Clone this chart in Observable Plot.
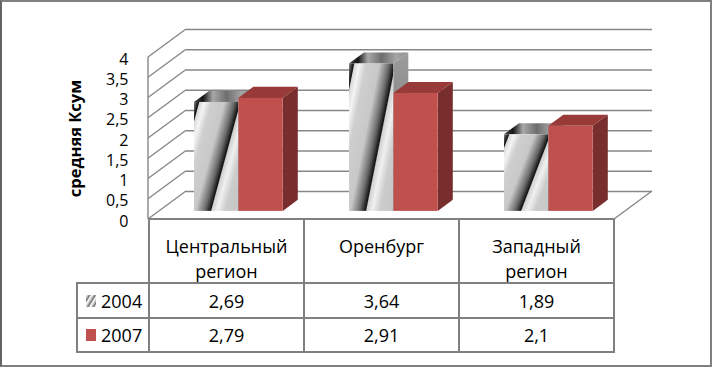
<!DOCTYPE html>
<html>
<head>
<meta charset="utf-8">
<script src="https://cdn.jsdelivr.net/npm/d3@7"></script>
<script src="https://cdn.jsdelivr.net/npm/@observablehq/plot@0.6"></script>
<style>
  body { margin: 0; background: #fff; }
  #wrap { position: relative; width: 712px; height: 367px; overflow: hidden; font-family: "Open Sans", sans-serif; background: #fff; }
  #wrap > svg { position: absolute; left: 0; top: 0; }
  #frame { position: absolute; left: 0; top: 0; width: 712px; height: 367px; box-sizing: border-box; border: 2px solid #808080; border-left-color: #646464; pointer-events: none; }
  .ln { position: absolute; background: #808080; }
  .cell { position: absolute; text-align: center; font-size: 18px; color: #000; white-space: nowrap; }
  .sw { display: block; margin-right: 5px; flex: none; }
</style>
</head>
<body>
<div id="wrap"><div id="frame"></div></div>
<script>
// ---------- data ----------
const categories = ["Центральный регион", "Оренбург", "Западный регион"];
const years = ["2004", "2007"];
const values2004 = [2.69, 3.64, 1.89];
const values2007 = [2.79, 2.91, 2.1];
const yTicks = [0, 0.5, 1, 1.5, 2, 2.5, 3, 3.5, 4];
const yTitle = "средняя Ксум";

const rows = categories.flatMap((cat, i) => [
  {cat, year: years[0], value: values2004[i]},
  {cat, year: years[1], value: values2007[i]}
]);
const fmt = v => String(v).replace(".", ",");

// ---------- layout ----------
const W = 712, H = 367;
const M = {left: 148, right: 98, top: 57, bottom: 148};
const DEPTH = [38, -28];          // full-depth oblique offset (px)
const BAR_D0 = 0.29, BAR_D1 = 0.685;
const SLOTS = {"2004": [0.219, 0.505], "2007": [0.505, 0.792]};
const bwPx = (W - M.left - M.right) / categories.length;
const GRID = "#878787";

const STYLE = {
  "2004": {front: "url(#metal)", top: "url(#metalTop)", side: "url(#metalSide)"},
  "2007": {front: "#C0504D", top: "#983B38", side: "#782E2C"}
};

const defsHTML = `
<linearGradient id="metal" gradientUnits="objectBoundingBox" x1="0" y1="0" x2="1.5" y2="1">
  <stop offset="0" stop-color="#8a8a8a"/>
  <stop offset="0.03" stop-color="#3a3a3a"/>
  <stop offset="0.05" stop-color="#121212"/>
  <stop offset="0.06" stop-color="#d8d8d8"/>
  <stop offset="0.11" stop-color="#f4f4f4"/>
  <stop offset="0.18" stop-color="#cfcfcf"/>
  <stop offset="0.32" stop-color="#c8c8c8"/>
  <stop offset="0.42" stop-color="#6a6a6a"/>
  <stop offset="0.48" stop-color="#121212"/>
  <stop offset="0.492" stop-color="#d0d0d0"/>
  <stop offset="0.55" stop-color="#f0f0f0"/>
  <stop offset="0.63" stop-color="#cccccc"/>
  <stop offset="0.8" stop-color="#c4c4c4"/>
</linearGradient>
<linearGradient id="metalTop" gradientUnits="objectBoundingBox" x1="0" y1="0" x2="1" y2="0">
  <stop offset="0" stop-color="#4a4a4a"/>
  <stop offset="0.15" stop-color="#141414"/>
  <stop offset="0.32" stop-color="#a8a8a8"/>
  <stop offset="0.55" stop-color="#6e6e6e"/>
  <stop offset="0.8" stop-color="#a5a5a5"/>
  <stop offset="1" stop-color="#8a8a8a"/>
</linearGradient>
<linearGradient id="metalSide" gradientUnits="objectBoundingBox" x1="0" y1="0" x2="0" y2="1">
  <stop offset="0" stop-color="#9c9c9c"/>
  <stop offset="1" stop-color="#6a6a6a"/>
</linearGradient>`;

// ---------- custom render marks (use Plot's scales) ----------
function walls(index, {y}, values, dims) {
  const g = d3.create("svg:g").attr("stroke", GRID).attr("stroke-width", 1.4).attr("fill", "none");
  g.append("defs").html(defsHTML);
  const xl = dims.marginLeft, xr = dims.width - dims.marginRight;
  for (const v of yTicks) {
    g.append("line").attr("x1", xl).attr("y1", y(v)).attr("x2", xl + DEPTH[0]).attr("y2", y(v) + DEPTH[1]);
  }
  g.append("line").attr("x1", xl).attr("y1", y(yTicks[yTicks.length - 1])).attr("x2", xl).attr("y2", y(0));
  g.append("line").attr("x1", xr).attr("y1", y(0)).attr("x2", xr + DEPTH[0]).attr("y2", y(0) + DEPTH[1]);
  return g.node();
}

function faces(index, {x, y}) {
  const g = d3.create("svg:g");
  const bw = x.bandwidth ? x.bandwidth() : bwPx;
  const o0 = [BAR_D0 * DEPTH[0], BAR_D0 * DEPTH[1]];
  const o1 = [BAR_D1 * DEPTH[0], BAR_D1 * DEPTH[1]];
  for (const d of rows) {
    const [a, b] = SLOTS[d.year];
    const xa = x(d.cat) + a * bw, xb = x(d.cat) + b * bw;
    const yt = y(d.value), yb = y(0);
    const top = [[xa + o0[0], yt + o0[1]], [xb + o0[0], yt + o0[1]], [xb + o1[0], yt + o1[1]], [xa + o1[0], yt + o1[1]]];
    const side = [[xb + o0[0], yt + o0[1]], [xb + o1[0], yt + o1[1]], [xb + o1[0], yb + o1[1]], [xb + o0[0], yb + o0[1]]];
    g.append("polygon").attr("points", side.join(" ")).attr("fill", STYLE[d.year].side);
    g.append("polygon").attr("points", top.join(" ")).attr("fill", STYLE[d.year].top);
  }
  return g.node();
}

function frontBars(year) {
  const [a, b] = SLOTS[year];
  return Plot.barY(rows.filter(d => d.year === year), {
    x: "cat", y1: 0, y2: "value", fill: STYLE[year].front,
    insetLeft: a * bwPx, insetRight: (1 - b) * bwPx,
    dx: BAR_D0 * DEPTH[0], dy: BAR_D0 * DEPTH[1]
  });
}

const chart = Plot.plot({
  width: W, height: H,
  marginLeft: M.left, marginRight: M.right, marginTop: M.top, marginBottom: M.bottom,
  x: {domain: categories, padding: 0, axis: null},
  y: {domain: [0, 4]},
  style: {fontFamily: "'Open Sans', sans-serif", fontSize: "16px", background: "transparent", color: "#000"},
  marks: [
    walls,
    Plot.ruleY(yTicks, {dx: DEPTH[0], dy: DEPTH[1], stroke: GRID, strokeWidth: 1.4}),
    faces,
    frontBars("2004"),
    frontBars("2007"),
    Plot.axisY({ticks: yTicks, tickSize: 0, tickPadding: 20, tickFormat: fmt, label: null, fontSize: 16, dy: 2}),
    Plot.text([yTitle], {text: d => d, frameAnchor: "left", textAnchor: "middle", dx: -73, rotate: -90, fontWeight: "bold", fontSize: 16.5, fill: "#000"})
  ]
});

const wrap = document.getElementById("wrap");
const frame = document.getElementById("frame");
wrap.insertBefore(chart, frame);

// ---------- data table below the plot ----------
const xs = chart.scale("x"), ys = chart.scale("y");
const bw = xs.bandwidth;
const colX = categories.map(c => xs.apply(c));
const xEnd = colX[colX.length - 1] + bw;
const legendX = 77;
const rowY = [ys.apply(0), ys.apply(0) + 64, ys.apply(0) + 99, ys.apply(0) + 133];

function line(x, y, w, h) {
  const d = document.createElement("div");
  d.className = "ln";
  Object.assign(d.style, {left: x + "px", top: y + "px", width: w + "px", height: h + "px"});
  wrap.insertBefore(d, frame);
}
function cell(x, y, w, h, html, extra = {}) {
  const d = document.createElement("div");
  d.className = "cell";
  Object.assign(d.style, {left: x + "px", top: y + "px", width: w + "px", height: h + "px"}, extra);
  d.innerHTML = html;
  wrap.insertBefore(d, frame);
}

// horizontal lines
line(colX[0] - 1, rowY[0] - 1, xEnd - colX[0] + 2, 2);
for (let r = 1; r < 4; r++) line(legendX - 1, rowY[r] - 1, xEnd - legendX + 2, 2);
// vertical lines
line(legendX - 1, rowY[1] - 1, 2, rowY[3] - rowY[1] + 2);
for (const cx of [...colX, xEnd]) line(cx - 1, rowY[0] - 1, 2, rowY[3] - rowY[0] + 2);

// header cells
categories.forEach((c, i) => {
  cell(colX[i], rowY[0] + 15, bw, rowY[1] - rowY[0] - 15, c.split(" ").join("<br>"), {lineHeight: "25px"});
});
// value cells
const series = [values2004, values2007];
series.forEach((vals, r) => {
  vals.forEach((v, i) => {
    cell(colX[i], rowY[r + 1], bw, rowY[r + 2] - rowY[r + 1], fmt(v), {display: "flex", alignItems: "center", justifyContent: "center"});
  });
});
// legend cells
const swatch2004 = `<svg class="sw" width="10" height="12"><defs><linearGradient id="swm" gradientUnits="userSpaceOnUse" x1="0" y1="0" x2="4" y2="2.5" spreadMethod="repeat"><stop offset="0" stop-color="#ffffff"/><stop offset="0.35" stop-color="#c8c8c8"/><stop offset="0.7" stop-color="#6e6e6e"/><stop offset="1" stop-color="#ffffff"/></linearGradient></defs><rect width="10" height="12" fill="url(#swm)"/></svg>`;
const swatch2007 = `<svg class="sw" width="10" height="12"><rect width="10" height="12" fill="${STYLE["2007"].front}"/></svg>`;
[swatch2004, swatch2007].forEach((sw, r) => {
  cell(legendX, rowY[r + 1], colX[0] - legendX, rowY[r + 2] - rowY[r + 1], sw + "<span>" + years[r] + "</span>",
       {display: "flex", alignItems: "center", justifyContent: "flex-start", paddingLeft: "9px", boxSizing: "border-box"});
});
</script>
</body>
</html>
